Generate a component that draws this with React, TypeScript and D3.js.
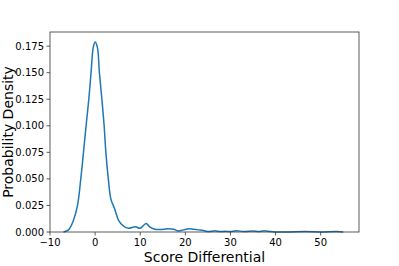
import React from "react";
import * as d3 from "d3";

const xs = [-7.0, -5.9, -4.8, -3.9, -3.2, -2.6, -2.0, -1.4, -0.9, -0.4, 0.0, 0.5, 0.95, 1.5, 2.0, 2.4, 2.95, 3.5, 4.4, 5.2, 6.3, 7.4, 8.9, 10.0, 11.3, 12.2, 13.3, 15.1, 16.3, 17.4, 18.5, 19.6, 20.7, 21.8, 22.9, 24.0, 25.1, 26.6, 27.7, 28.8, 29.9, 31.4, 32.9, 35.1, 36.2, 37.5, 38.8, 39.9, 43.0, 46.6, 50.0, 53.6, 55.0];
const ys = [0.0, 0.002, 0.011, 0.025, 0.049, 0.074, 0.1, 0.125, 0.15, 0.174, 0.179, 0.174, 0.15, 0.125, 0.1, 0.074, 0.049, 0.031, 0.021, 0.011, 0.0055, 0.0035, 0.005, 0.0035, 0.008, 0.0045, 0.0025, 0.0025, 0.003, 0.0025, 0.001, 0.002, 0.003, 0.0025, 0.002, 0.0015, 0.0004, 0.0012, 0.0004, 0.0007, 0.0004, 0.0012, 0.0004, 0.001, 0.0004, 0.0012, 0.0004, 0.0, 0.0001, 0.0004, 0.0001, 0.0004, 0.0];
const xTicks = [-10, 0, 10, 20, 30, 40, 50];
const yTicks = [0, 0.025, 0.05, 0.075, 0.1, 0.125, 0.15, 0.175];

const W = 399, H = 266;
const L = 50, R = 359, T = 32, B = 232;
const font = "DejaVu Sans, sans-serif";

export default function App() {
  const x = d3.scaleLinear().domain([-10, 58.5]).range([L, R]);
  const y = d3.scaleLinear().domain([0, 0.1883]).range([B, T]);
  const pts = xs.map((v, i) => [v, ys[i]] as [number, number]);
  const line = d3.line<[number, number]>().x(d => x(d[0])).y(d => y(d[1])).curve(d3.curveCatmullRom.alpha(0.5));
  return (
    <svg width={W} height={H} style={{ position: "absolute", left: 0, top: 0 }} fontFamily={font}>
      <rect x={0} y={0} width={W} height={H} fill="#fff" />
      <path d={line(pts) || ""} fill="none" stroke="#1f77b4" strokeWidth={1.5} />
      <rect x={L} y={T} width={R - L} height={B - T} fill="none" stroke="#333" strokeWidth={0.8} />
      {xTicks.map(t => (
        <g key={t}>
          <line x1={x(t)} x2={x(t)} y1={B} y2={B + 3.5} stroke="#333" strokeWidth={0.8} />
          <text x={x(t)} y={B + 13.5} fontSize={10} textAnchor="middle" fill="#000">{t < 0 ? "\u2212" + Math.abs(t) : t}</text>
        </g>
      ))}
      {yTicks.map(t => (
        <g key={t}>
          <line x1={L - 3.5} x2={L} y1={y(t)} y2={y(t)} stroke="#333" strokeWidth={0.8} />
          <text x={L - 6} y={y(t) + 3.6} fontSize={10} textAnchor="end" fill="#000">{t.toFixed(3)}</text>
        </g>
      ))}
      <text x={(L + R) / 2} y={262} fontSize={14} textAnchor="middle" fill="#000">Score Differential</text>
      <text transform={`translate(8,${(T + B) / 2}) rotate(-90)`} x={0} y={0} dy={5} fontSize={14} textAnchor="middle" fill="#000">Probability Density</text>
    </svg>
  );
}
